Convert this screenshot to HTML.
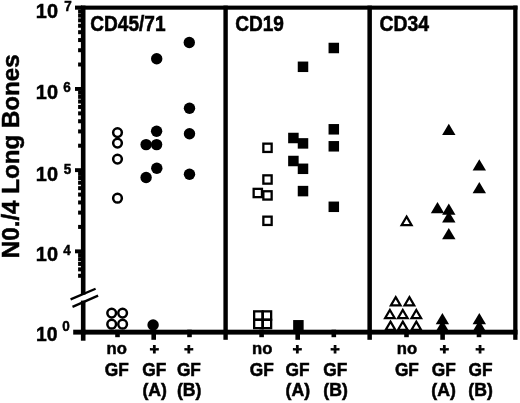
<!DOCTYPE html>
<html><head><meta charset="utf-8"><title>Figure</title>
<style>
html,body{margin:0;padding:0;background:#fff;}
body{width:520px;height:403px;overflow:hidden;}
svg{display:block;}
text{font-family:"Liberation Sans",sans-serif;font-weight:bold;fill:#000;}
</style></head><body>
<svg width="520" height="403" viewBox="0 0 520 403">
<rect width="520" height="403" fill="#fff"/>
<g fill="#000">
<rect x="80.9" y="5.6" width="436.6" height="4.1"/>
<rect x="73.2" y="329.7" width="444.3" height="4.900000000000034"/>
<rect x="80.9" y="5.6" width="4.599999999999994" height="289.0"/>
<rect x="80.9" y="300.6" width="4.599999999999994" height="34.0"/>
<rect x="223.4" y="5.6" width="4.400000000000006" height="334.2"/>
<rect x="367.4" y="5.6" width="4.5" height="334.2"/>
<rect x="513.2" y="5.6" width="4.2999999999999545" height="334.2"/>
<rect x="80.9" y="329.7" width="4.599999999999994" height="11.0"/>
<rect x="75" y="5.6" width="7" height="4.1"/>
<rect x="75" y="87.00" width="7" height="3.9"/>
<rect x="75" y="168.20" width="7" height="3.9"/>
<rect x="75" y="249.40" width="7" height="3.9"/>
<rect x="78.1" y="62.51" width="4" height="4.0"/>
<rect x="78.1" y="48.21" width="4" height="4.0"/>
<rect x="78.1" y="38.06" width="4" height="4.0"/>
<rect x="78.1" y="30.19" width="4" height="4.0"/>
<rect x="78.1" y="23.76" width="4" height="4.0"/>
<rect x="78.1" y="18.33" width="4" height="4.0"/>
<rect x="78.1" y="13.62" width="4" height="4.0"/>
<rect x="78.1" y="9.47" width="4" height="4.0"/>
<rect x="78.1" y="143.71" width="4" height="4.0"/>
<rect x="78.1" y="129.41" width="4" height="4.0"/>
<rect x="78.1" y="119.26" width="4" height="4.0"/>
<rect x="78.1" y="111.39" width="4" height="4.0"/>
<rect x="78.1" y="104.96" width="4" height="4.0"/>
<rect x="78.1" y="99.53" width="4" height="4.0"/>
<rect x="78.1" y="94.82" width="4" height="4.0"/>
<rect x="78.1" y="90.67" width="4" height="4.0"/>
<rect x="78.1" y="224.91" width="4" height="4.0"/>
<rect x="78.1" y="210.61" width="4" height="4.0"/>
<rect x="78.1" y="200.46" width="4" height="4.0"/>
<rect x="78.1" y="192.59" width="4" height="4.0"/>
<rect x="78.1" y="186.16" width="4" height="4.0"/>
<rect x="78.1" y="180.73" width="4" height="4.0"/>
<rect x="78.1" y="176.02" width="4" height="4.0"/>
<rect x="78.1" y="171.87" width="4" height="4.0"/>
<rect x="78.1" y="273.79" width="4" height="4.0"/>
<rect x="78.1" y="267.36" width="4" height="4.0"/>
<rect x="78.1" y="261.93" width="4" height="4.0"/>
<rect x="78.1" y="257.22" width="4" height="4.0"/>
<rect x="78.1" y="253.07" width="4" height="4.0"/>
<rect x="115.20" y="329.7" width="4.6" height="7.50"/>
<rect x="151.40" y="329.7" width="4.6" height="10.10"/>
<rect x="187.20" y="329.7" width="4.6" height="7.50"/>
<rect x="259.30" y="329.7" width="4.6" height="7.50"/>
<rect x="295.40" y="329.7" width="4.6" height="10.10"/>
<rect x="331.50" y="329.7" width="4.6" height="7.50"/>
<rect x="404.20" y="329.7" width="4.6" height="7.50"/>
<rect x="440.30" y="329.7" width="4.6" height="10.10"/>
<rect x="476.70" y="329.7" width="4.6" height="7.50"/>
</g>
<g stroke="#000" stroke-width="2.3" stroke-linecap="butt">
<line x1="70.6" y1="299.4" x2="95.6" y2="288.8"/>
<line x1="72.5" y1="306.9" x2="98.1" y2="295.6"/>
</g>
<circle cx="117.5" cy="132.6" r="4.35" fill="#fff" stroke="#000" stroke-width="2.5"/>
<circle cx="117.5" cy="143.1" r="4.35" fill="#fff" stroke="#000" stroke-width="2.5"/>
<circle cx="117.5" cy="159.1" r="4.35" fill="#fff" stroke="#000" stroke-width="2.5"/>
<circle cx="117.5" cy="198.2" r="4.35" fill="#fff" stroke="#000" stroke-width="2.5"/>
<circle cx="111.7" cy="313.1" r="4.35" fill="#fff" stroke="#000" stroke-width="2.5"/>
<circle cx="122.6" cy="313.1" r="4.35" fill="#fff" stroke="#000" stroke-width="2.5"/>
<circle cx="111.7" cy="324.2" r="4.35" fill="#fff" stroke="#000" stroke-width="2.5"/>
<circle cx="122.6" cy="324.2" r="4.35" fill="#fff" stroke="#000" stroke-width="2.5"/>
<circle cx="156.7" cy="58.8" r="5.7" fill="#000"/>
<circle cx="156.6" cy="131.3" r="5.7" fill="#000"/>
<circle cx="146.1" cy="144.6" r="5.7" fill="#000"/>
<circle cx="156.6" cy="144.6" r="5.7" fill="#000"/>
<circle cx="156.8" cy="168.3" r="5.7" fill="#000"/>
<circle cx="146.1" cy="177.5" r="5.7" fill="#000"/>
<circle cx="153.1" cy="325.0" r="5.7" fill="#000"/>
<circle cx="189.3" cy="42.5" r="5.7" fill="#000"/>
<circle cx="189.5" cy="108.3" r="5.7" fill="#000"/>
<circle cx="189.5" cy="133.8" r="5.7" fill="#000"/>
<circle cx="189.5" cy="174.3" r="5.7" fill="#000"/>
<rect x="263.35" y="143.65" width="8.30" height="8.30" fill="#fff" stroke="#000" stroke-width="2.3"/>
<rect x="263.35" y="175.35" width="8.30" height="8.30" fill="#fff" stroke="#000" stroke-width="2.3"/>
<rect x="253.65" y="188.85" width="8.30" height="8.30" fill="#fff" stroke="#000" stroke-width="2.3"/>
<rect x="263.35" y="191.25" width="8.30" height="8.30" fill="#fff" stroke="#000" stroke-width="2.3"/>
<rect x="263.35" y="216.65" width="8.30" height="8.30" fill="#fff" stroke="#000" stroke-width="2.3"/>
<rect x="254.15" y="311.35" width="8.30" height="8.30" fill="#fff" stroke="#000" stroke-width="2.3"/>
<rect x="262.85" y="311.35" width="8.30" height="8.30" fill="#fff" stroke="#000" stroke-width="2.3"/>
<rect x="254.15" y="319.85" width="8.30" height="8.30" fill="#fff" stroke="#000" stroke-width="2.3"/>
<rect x="262.85" y="319.85" width="8.30" height="8.30" fill="#fff" stroke="#000" stroke-width="2.3"/>
<rect x="297.75" y="61.55" width="10.5" height="10.5" fill="#000"/>
<rect x="328.55" y="42.75" width="10.5" height="10.5" fill="#000"/>
<rect x="288.15" y="132.75" width="10.5" height="10.5" fill="#000"/>
<rect x="297.75" y="138.15" width="10.5" height="10.5" fill="#000"/>
<rect x="288.15" y="155.75" width="10.5" height="10.5" fill="#000"/>
<rect x="297.75" y="163.55" width="10.5" height="10.5" fill="#000"/>
<rect x="297.75" y="185.85" width="10.5" height="10.5" fill="#000"/>
<rect x="328.55" y="124.05" width="10.5" height="10.5" fill="#000"/>
<rect x="328.55" y="141.05" width="10.5" height="10.5" fill="#000"/>
<rect x="328.55" y="201.55" width="10.5" height="10.5" fill="#000"/>
<rect x="293.15" y="320.05" width="10.5" height="10.5" fill="#000"/>
<polygon points="406.60,216.59 411.59,225.20 401.61,225.20" fill="#fff" stroke="#000" stroke-width="2.2" stroke-linejoin="miter"/>
<polygon points="395.70,297.17 400.53,305.40 390.87,305.40" fill="#fff" stroke="#000" stroke-width="2.2" stroke-linejoin="miter"/>
<polygon points="409.40,297.17 414.23,305.40 404.57,305.40" fill="#fff" stroke="#000" stroke-width="2.2" stroke-linejoin="miter"/>
<polygon points="389.90,309.97 394.73,318.20 385.07,318.20" fill="#fff" stroke="#000" stroke-width="2.2" stroke-linejoin="miter"/>
<polygon points="402.80,309.97 407.63,318.20 397.97,318.20" fill="#fff" stroke="#000" stroke-width="2.2" stroke-linejoin="miter"/>
<polygon points="416.30,309.97 421.13,318.20 411.47,318.20" fill="#fff" stroke="#000" stroke-width="2.2" stroke-linejoin="miter"/>
<polygon points="390.50,321.67 395.33,329.90 385.67,329.90" fill="#fff" stroke="#000" stroke-width="2.2" stroke-linejoin="miter"/>
<polygon points="402.80,321.67 407.63,329.90 397.97,329.90" fill="#fff" stroke="#000" stroke-width="2.2" stroke-linejoin="miter"/>
<polygon points="416.30,321.67 421.13,329.90 411.47,329.90" fill="#fff" stroke="#000" stroke-width="2.2" stroke-linejoin="miter"/>
<polygon points="448.8,123.8 455.50,135.10 442.10,135.10" fill="#000"/>
<polygon points="479.3,159.3 486.00,170.60 472.60,170.60" fill="#000"/>
<polygon points="479.3,182.0 486.00,193.30 472.60,193.30" fill="#000"/>
<polygon points="437.5,202.0 444.20,213.30 430.80,213.30" fill="#000"/>
<polygon points="448.8,203.5 455.50,214.80 442.10,214.80" fill="#000"/>
<polygon points="448.8,211.3 455.50,222.60 442.10,222.60" fill="#000"/>
<polygon points="448.8,228.0 455.50,239.30 442.10,239.30" fill="#000"/>
<polygon points="442.4,312.9 449.10,324.20 435.70,324.20" fill="#000"/>
<polygon points="442.4,320.2 449.10,331.50 435.70,331.50" fill="#000"/>
<polygon points="479.3,312.9 486.00,324.20 472.60,324.20" fill="#000"/>
<polygon points="479.3,320.2 486.00,331.50 472.60,331.50" fill="#000"/>
<g stroke="#000" stroke-width="0.5">
<text transform="translate(90.30,30.60) scale(1.005,1.150)" font-size="19">CD45/71</text>
<text transform="translate(235.20,30.60) scale(1.005,1.150)" font-size="19">CD19</text>
<text transform="translate(379.49,30.60) scale(1.020,1.150)" font-size="19">CD34</text>
<text transform="translate(35.85,18.27) scale(0.947,0.968)" font-size="21">10</text>
<text transform="translate(64.16,10.70) scale(0.930,0.990)" font-size="14.5">7</text>
<text transform="translate(35.85,99.42) scale(0.947,0.968)" font-size="21">10</text>
<text transform="translate(63.18,92.05) scale(0.930,0.990)" font-size="14.5">6</text>
<text transform="translate(35.85,180.62) scale(0.947,0.968)" font-size="21">10</text>
<text transform="translate(63.76,173.85) scale(0.930,0.990)" font-size="14.5">5</text>
<text transform="translate(35.85,261.12) scale(0.947,0.968)" font-size="21">10</text>
<text transform="translate(63.16,255.15) scale(0.930,0.990)" font-size="14.5">4</text>
<text transform="translate(35.98,340.71) scale(0.920,0.981)" font-size="21">10</text>
<text transform="translate(62.28,330.96) scale(0.930,0.971)" font-size="14.5">0</text>
<text transform="translate(106.61,354.33) scale(0.980,0.944)" font-size="17">no</text>
<text transform="translate(104.79,375.76) scale(1.020,1.088)" font-size="17">GF</text>
<text transform="translate(149.70,353.84) scale(0.920,0.851)" font-size="17" stroke-width="1.1">+</text>
<text transform="translate(142.29,375.76) scale(1.020,1.088)" font-size="17">GF</text>
<text transform="translate(142.38,396.25) scale(1.040,1.052)" font-size="17">(A)</text>
<text transform="translate(184.20,353.84) scale(0.920,0.851)" font-size="17" stroke-width="1.1">+</text>
<text transform="translate(176.89,375.76) scale(1.020,1.088)" font-size="17">GF</text>
<text transform="translate(176.98,396.25) scale(1.040,1.052)" font-size="17">(B)</text>
<text transform="translate(252.11,354.33) scale(0.980,0.944)" font-size="17">no</text>
<text transform="translate(249.79,375.76) scale(1.020,1.088)" font-size="17">GF</text>
<text transform="translate(292.80,353.84) scale(0.920,0.851)" font-size="17" stroke-width="1.1">+</text>
<text transform="translate(285.49,375.76) scale(1.020,1.088)" font-size="17">GF</text>
<text transform="translate(285.58,396.25) scale(1.040,1.052)" font-size="17">(A)</text>
<text transform="translate(330.50,353.84) scale(0.920,0.851)" font-size="17" stroke-width="1.1">+</text>
<text transform="translate(323.19,375.76) scale(1.020,1.088)" font-size="17">GF</text>
<text transform="translate(323.28,396.25) scale(1.040,1.052)" font-size="17">(B)</text>
<text transform="translate(396.71,354.33) scale(0.980,0.944)" font-size="17">no</text>
<text transform="translate(394.89,375.76) scale(1.020,1.088)" font-size="17">GF</text>
<text transform="translate(439.70,353.84) scale(0.920,0.851)" font-size="17" stroke-width="1.1">+</text>
<text transform="translate(431.69,375.76) scale(1.020,1.088)" font-size="17">GF</text>
<text transform="translate(431.28,396.25) scale(1.040,1.052)" font-size="17">(A)</text>
<text transform="translate(475.60,353.84) scale(0.920,0.851)" font-size="17" stroke-width="1.1">+</text>
<text transform="translate(468.49,375.76) scale(1.020,1.088)" font-size="17">GF</text>
<text transform="translate(468.28,396.25) scale(1.040,1.052)" font-size="17">(B)</text>
</g>
<text transform="translate(19.21,258.16) rotate(-90) scale(1.006,0.989)" font-size="24" stroke="#000" stroke-width="0.5">N0./4 Long Bones</text>
</svg>
</body></html>
